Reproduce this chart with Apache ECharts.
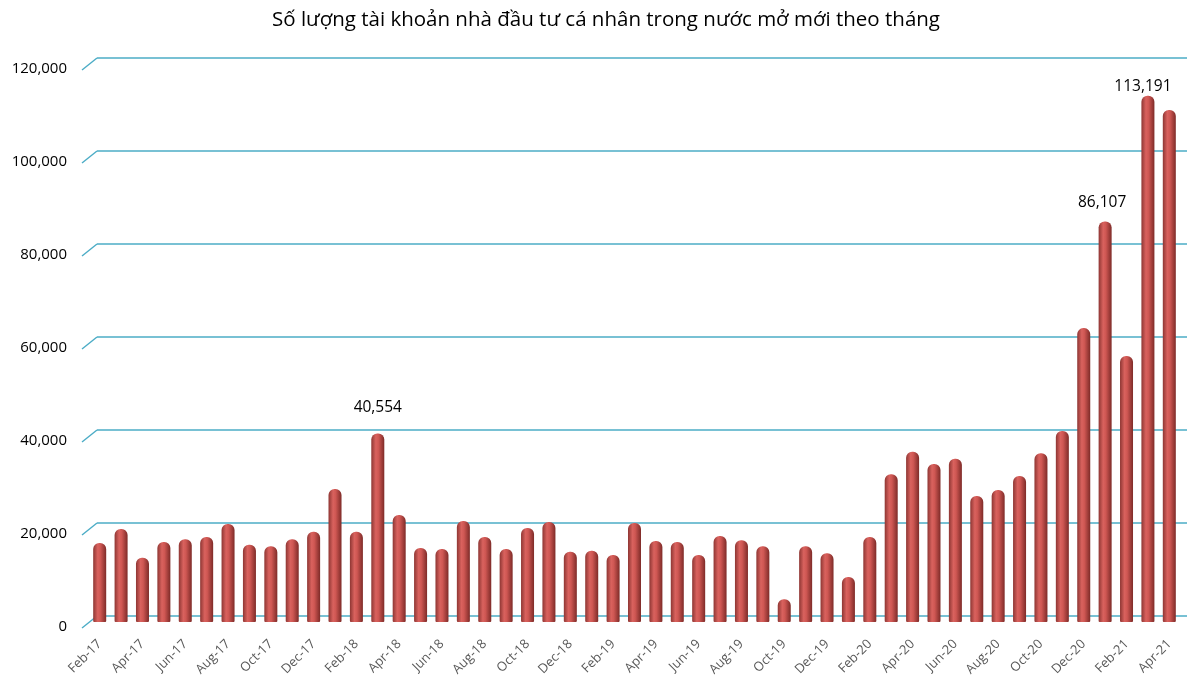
<!DOCTYPE html>
<html><head><meta charset="utf-8">
<script src="https://cdn.jsdelivr.net/npm/echarts@6/dist/echarts.min.js"></script>
<style>html,body{margin:0;padding:0;background:#fff}#c{width:1200px;height:687px}</style>
</head><body><div id="c"></div>
<script>
const title = "Số lượng tài khoản nhà đầu tư cá nhân trong nước mở mới theo tháng";
const months = ["Feb-17","Mar-17","Apr-17","May-17","Jun-17","Jul-17","Aug-17","Sep-17","Oct-17","Nov-17","Dec-17",
"Jan-18","Feb-18","Mar-18","Apr-18","May-18","Jun-18","Jul-18","Aug-18","Sep-18","Oct-18","Nov-18","Dec-18",
"Jan-19","Feb-19","Mar-19","Apr-19","May-19","Jun-19","Jul-19","Aug-19","Sep-19","Oct-19","Nov-19","Dec-19",
"Jan-20","Feb-20","Mar-20","Apr-20","May-20","Jun-20","Jul-20","Aug-20","Sep-20","Oct-20","Nov-20","Dec-20",
"Jan-21","Feb-21","Mar-21","Apr-21"];
const accounts = [17000,20000,13800,17200,17800,18300,21100,16600,16300,17800,19400,
28600,19400,40554,23000,15900,15700,21700,18300,15700,20200,21500,15100,
15300,14400,21300,17400,17200,14400,18500,17600,16300,4900,16300,14800,
9700,18300,31800,36600,34000,35100,27100,28400,31400,36300,41100,63200,
86107,57200,113191,110100];
const labelledMonths = ["Mar-18","Jan-21","Mar-21"];
const labelOffsets = [[0,-4],[-3,3],[-5,13]];
const yTicks = [0,20000,40000,60000,80000,100000,120000];

const chart = echarts.init(document.getElementById('c'));
const barGrad = new echarts.graphic.LinearGradient(0,0,1,0,[
  {offset:0,color:'#8e3633'},{offset:0.35,color:'#d9625e'},{offset:0.55,color:'#cf5753'},{offset:1,color:'#7e2b28'}]);
const data = accounts.map((v,i)=>{
  const k = labelledMonths.indexOf(months[i]);
  const item = {value:v};
  if(k>=0){
    item.label = {show:true,position:'top',distance:14,offset:labelOffsets[k],
      formatter:p=>p.value.toLocaleString('en-US'),
      fontFamily:'Open Sans',fontSize:15.5,color:'#000'};
  }
  return item;
});
chart.setOption({
  animation:false,
  title:{text:title,left:267,top:5,textStyle:{fontFamily:'Open Sans',fontSize:20.5,fontWeight:'normal',color:'#000'}},
  grid:[
    {left:89,right:20,top:64,bottom:65},
    {left:97,right:13,top:58,bottom:71}
  ],
  xAxis:[
    {type:'category',gridIndex:0,data:months,
      axisLine:{show:false},axisTick:{show:false},
      axisLabel:{interval:1,rotate:45,margin:20,fontFamily:'Open Sans',fontSize:13,color:'#595959'}},
    {type:'category',gridIndex:1,data:months,show:false}
  ],
  yAxis:[
    {type:'value',gridIndex:0,min:0,max:120000,interval:20000,
      axisLine:{show:false},axisTick:{show:false},splitLine:{show:false},
      axisLabel:{margin:22,verticalAlign:'top',lineHeight:10,fontFamily:'Open Sans',fontSize:15,color:'#000',
        formatter:v=>yTicks.includes(v)?v.toLocaleString('en-US'):''}},
    {type:'value',gridIndex:1,min:0,max:120000,interval:20000,
      axisLine:{show:false},axisTick:{show:false},axisLabel:{show:false},
      splitLine:{show:true,lineStyle:{color:'#4bacc6',width:1.5}}}
  ],
  series:[{
    type:'bar',xAxisIndex:0,yAxisIndex:0,data:data,barWidth:13,
    itemStyle:{color:barGrad,borderRadius:[6,6,1,1]}
  }]
});
// depth stubs joining front labels to back gridlines
const stubs = yTicks.map(v=>{
  const yb = chart.convertToPixel({yAxisIndex:1}, v);
  const yf = chart.convertToPixel({yAxisIndex:0}, v);
  return {type:'line',shape:{x1:82,y1:yf+6,x2:97,y2:yb},style:{stroke:'#4bacc6',lineWidth:1.5}};
});
chart.setOption({graphic:stubs});
</script></body></html>
